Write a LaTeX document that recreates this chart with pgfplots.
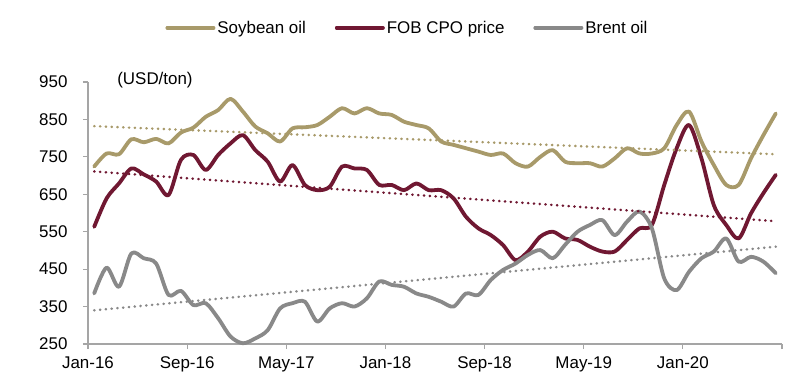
\documentclass[border=0pt]{standalone}
\usepackage{pgfplots}
\pgfplotsset{compat=1.18}
\usepackage{fontspec}
\setmainfont{Liberation Sans}
\definecolor{soy}{RGB}{168,154,106}
\definecolor{cpo}{RGB}{112,24,50}
\definecolor{brent}{RGB}{137,137,137}
\definecolor{axgray}{RGB}{165,165,165}
\begin{document}
\begin{tikzpicture}
\useasboundingbox (-88bp,-43bp) rectangle (712bp,344bp);
\begin{axis}[
  at={(0,0)}, anchor=south west,
  scale only axis, width=694bp, height=262bp,
  xmin=0, xmax=56, ymin=250, ymax=950,
  clip=false,
  axis x line*=bottom, axis y line*=left,
  axis line style={axgray, line width=1.3bp},
  xtick={0,8,...,56},
  xticklabels={Jan-16,Sep-16,May-17,Jan-18,Sep-18,May-19,Jan-20,},
  ytick={250,350,...,950},
  tick align=outside, major tick length=5bp,
  tick style={axgray, line width=1.1bp},
  ticklabel style={font=\fontsize{17}{20}\selectfont, text=black},
  /pgf/number format/assume math mode=true,
  yticklabel style={xshift=-12bp},
  xticklabel style={yshift=-4bp},
  legend columns=3,
  legend style={draw=none, fill=none, at={(0.4604,1.207)}, anchor=center,
    font=\fontsize{17}{20}\selectfont,
    /tikz/every even column/.append style={column sep=27bp}},
  legend image code/.code={\draw[#1, line width=4bp] (0bp,0bp) -- (42bp,0bp); \path (0bp,0bp) -- (46bp,0bp);},
  every axis plot/.append style={line join=round, line cap=round},
]
\addplot[soy, line width=3.8bp, smooth] table[x expr=\coordindex+0.5, y index=0] {
y
724
759
757
797
789
798
786
815
828
857
875
905
871
831
813
791
826
829
835
857
880
866
880
866
862
844
835
826
791
782
773
764
755
759
733
724
750
768
737
733
733
724
746
773
759
759
773
835
871
791
728
675
675
746
808
866
};
\addlegendentry{Soybean oil}
\addplot[cpo, line width=3.8bp, smooth] table[x expr=\coordindex+0.5, y index=0] {
y
563
639
679
719
703
684
648
742
755
715
755
786
808
768
737
684
728
675
661
670
724
719
715
675
675
661
679
661
661
639
590
559
541
514
474
497
537
550
532
528
510
497
497
528
559
568
675
773
835
746
621
568
532
599
653
702
};
\addlegendentry{FOB CPO price}
\addplot[brent, line width=3.8bp, smooth] table[x expr=\coordindex+0.5, y index=0] {
y
385
454
403
492
479
465
381
392
354
359
319
270
252
265
287
345
359
363
310
345
359
350
372
417
408
403
385
376
363
350
385
381
421
448
465
488
501
479
515
550
568
581
541
577
604
559
425
394
443
479
497
532
470
483
470
439
};
\addlegendentry{Brent oil}
\addplot[soy, line width=2.6bp, dash pattern=on 0.3bp off 5.5bp, line cap=round, forget plot] coordinates {(0.5,832) (55.5,757)};
\addplot[cpo, line width=2.6bp, dash pattern=on 0.3bp off 5.5bp, line cap=round, forget plot] coordinates {(0.5,711) (55.5,578)};
\addplot[brent, line width=2.6bp, dash pattern=on 0.3bp off 5.5bp, line cap=round, forget plot] coordinates {(0.5,340) (55.5,510)};
\node[anchor=west, font=\fontsize{17}{20}\selectfont, inner sep=0pt] at (rel axis cs:0.042,1.0076) {(USD/ton)};
\end{axis}
\end{tikzpicture}
\end{document}
